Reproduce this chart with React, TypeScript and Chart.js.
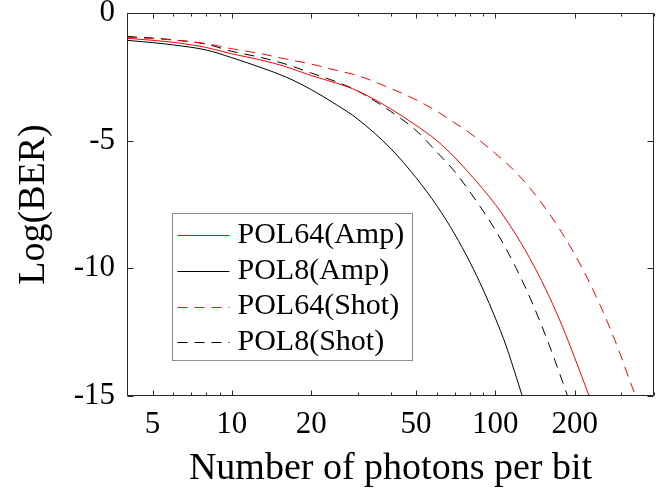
import React, { useEffect, useRef } from "react";
import { Chart, registerables } from "chart.js";

Chart.register(...registerables);

// ---- data ----
const xTickValues = [5, 10, 20, 50, 100, 200];
const xMinorValues = [4, 6, 7, 8, 9, 30, 40, 60, 70, 80, 90, 300, 400];
const yTickValues = [0, -5, -10, -15];

const pol64AmpN = [4, 5, 6, 8, 10, 13, 16, 20, 25, 30, 40, 50, 60, 70, 80, 100, 120, 140, 160, 180, 200, 227];
const pol64AmpLogBER = [-0.99, -1.07, -1.15, -1.35, -1.6, -1.85, -2.1, -2.45, -2.75, -3.05, -3.75, -4.4, -5.0, -5.65, -6.3, -7.5, -8.7, -9.9, -11.1, -12.3, -13.5, -15];

const pol8AmpN = [4, 5, 6, 8, 10, 13, 16, 20, 25, 30, 40, 50, 60, 70, 80, 90, 100, 110, 120, 126.5];
const pol8AmpLogBER = [-1.07, -1.16, -1.25, -1.45, -1.75, -2.15, -2.5, -3.0, -3.6, -4.15, -5.3, -6.45, -7.55, -8.65, -9.75, -10.85, -11.95, -13.05, -14.25, -15];

const pol64ShotN = [4, 5, 6, 8, 10, 13, 16, 20, 25, 30, 40, 50, 60, 70, 80, 100, 120, 140, 160, 180, 200, 225, 250, 275, 300, 325, 341];
const pol64ShotLogBER = [-0.95, -1.0, -1.06, -1.2, -1.4, -1.6, -1.8, -2.0, -2.25, -2.45, -2.95, -3.4, -3.85, -4.3, -4.7, -5.5, -6.25, -7.05, -7.85, -8.65, -9.45, -10.45, -11.45, -12.45, -13.45, -14.45, -15];

const pol8ShotN = [4, 5, 6, 8, 10, 13, 16, 20, 25, 30, 40, 50, 60, 70, 80, 100, 120, 140, 160, 180, 188];
const pol8ShotLogBER = [-0.92, -0.98, -1.05, -1.22, -1.5, -1.75, -2.0, -2.35, -2.7, -3.05, -3.85, -4.6, -5.45, -6.2, -7.0, -8.5, -10.0, -11.5, -13.0, -14.45, -15];

const seriesLabels = ["POL64(Amp)", "POL8(Amp)", "POL64(Shot)", "POL8(Shot)"];

const FONT = "'Liberation Serif', 'Times New Roman', serif";

export default function App() {
  const ref = useRef<HTMLCanvasElement>(null);

  useEffect(() => {
    document.body.style.margin = "0";
    const canvas = ref.current;
    if (!canvas) return;
    const pts = (xs: number[], ys: number[]) => xs.map((x, i) => ({ x, y: ys[i] }));

    const framePlugin = {
      id: "frameTicks",
      afterDatasetsDraw(chart: any) {
        const { ctx, chartArea } = chart;
        const { left, right, top, bottom } = chartArea;
        const xs = chart.scales.x;
        const ys = chart.scales.y;
        ctx.save();
        ctx.strokeStyle = "#262626";
        ctx.lineWidth = 1;
        const L = Math.round(left) + 0.5;
        const R = Math.round(right) - 0.5;
        const T = Math.round(top) + 0.5;
        const B = Math.round(bottom) - 0.5;
        ctx.beginPath();
        ctx.rect(L, T, R - L, B - T);
        ctx.stroke();
        ctx.beginPath();
        const xTick = (v: number, len: number) => {
          const px = Math.round(xs.getPixelForValue(v)) + 0.5;
          ctx.moveTo(px, B);
          ctx.lineTo(px, B - len);
          ctx.moveTo(px, T);
          ctx.lineTo(px, T + len);
        };
        xTickValues.forEach((v) => xTick(v, 5));
        xMinorValues.forEach((v) => xTick(v, 3));
        yTickValues.forEach((v) => {
          const py = Math.round(ys.getPixelForValue(v)) + 0.5;
          ctx.moveTo(L, py);
          ctx.lineTo(L + 6, py);
          ctx.moveTo(R, py);
          ctx.lineTo(R - 6, py);
        });
        ctx.stroke();
        ctx.restore();
      },
    };

    const legendPlugin = {
      id: "insideLegend",
      afterDraw(chart: any) {
        const { ctx, chartArea } = chart;
        const bx = Math.round(chartArea.left + 45) + 0.5;
        const by = Math.round(chartArea.top + 200) + 0.5;
        const bw = 240;
        const bh = 147;
        ctx.save();
        ctx.fillStyle = "#ffffff";
        ctx.fillRect(bx, by, bw, bh);
        ctx.strokeStyle = "#8c8c8c";
        ctx.lineWidth = 1;
        ctx.strokeRect(bx, by, bw, bh);
        chart.data.datasets.forEach((ds: any, i: number) => {
          const cy = by + 21.5 + i * 35.8;
          ctx.beginPath();
          ctx.strokeStyle = ds.borderColor;
          ctx.lineWidth = 1;
          ctx.setLineDash(ds.borderDash || []);
          ctx.moveTo(bx + 5, Math.round(cy) + 0.5);
          ctx.lineTo(bx + 57, Math.round(cy) + 0.5);
          ctx.stroke();
          ctx.setLineDash([]);
          ctx.fillStyle = "#000000";
          ctx.font = `30px ${FONT}`;
          ctx.textBaseline = "middle";
          ctx.textAlign = "left";
          ctx.fillText(ds.label, bx + 65, cy);
        });
        ctx.restore();
      },
    };

    const chart = new Chart(canvas, {
      type: "line",
      data: {
        datasets: [
          { label: seriesLabels[0], data: pts(pol64AmpN, pol64AmpLogBER), borderColor: "#ff0000", borderWidth: 1, pointRadius: 0, cubicInterpolationMode: "monotone" },
          { label: seriesLabels[1], data: pts(pol8AmpN, pol8AmpLogBER), borderColor: "#000000", borderWidth: 1, pointRadius: 0, cubicInterpolationMode: "monotone" },
          { label: seriesLabels[2], data: pts(pol64ShotN, pol64ShotLogBER), borderColor: "#ff0000", borderWidth: 1, borderDash: [10, 7], pointRadius: 0, cubicInterpolationMode: "monotone" },
          { label: seriesLabels[3], data: pts(pol8ShotN, pol8ShotLogBER), borderColor: "#000000", borderWidth: 1, borderDash: [10, 7], pointRadius: 0, cubicInterpolationMode: "monotone" },
        ],
      },
      options: {
        animation: false,
        responsive: false,
        maintainAspectRatio: false,
        layout: { padding: { left: 0, right: 15, top: 13, bottom: 0 } },
        plugins: { legend: { display: false }, tooltip: { enabled: false } },
        scales: {
          x: {
            type: "logarithmic",
            min: 4,
            max: 400,
            afterBuildTicks: (s: any) => {
              s.ticks = xTickValues.map((v) => ({ value: v }));
            },
            afterFit: (s: any) => {
              s.height = 101;
              s.paddingLeft = 0;
              s.paddingRight = 0;
            },
            grid: { display: false, drawTicks: false },
            border: { display: false },
            ticks: {
              autoSkip: false,
              maxRotation: 0,
              padding: 10,
              color: "#000000",
              font: { family: FONT, size: 31 },
              callback: (v: any) => String(v),
            },
            title: {
              display: true,
              text: "Number of photons per bit",
              color: "#000000",
              font: { family: FONT, size: 38 },
              padding: { top: 0, bottom: 5 },
            },
          },
          y: {
            type: "linear",
            min: -15,
            max: 0,
            afterBuildTicks: (s: any) => {
              s.ticks = yTickValues.map((v) => ({ value: v }));
            },
            afterFit: (s: any) => {
              s.width = 127;
              s.paddingTop = 0;
              s.paddingBottom = 0;
            },
            grid: { display: false, drawTicks: false },
            border: { display: false },
            ticks: {
              padding: 12,
              color: "#000000",
              font: { family: FONT, size: 31 },
              callback: (v: any) => String(v),
            },
            title: {
              display: true,
              text: "Log(BER)",
              color: "#000000",
              font: { family: FONT, size: 38 },
              padding: { top: 11, bottom: 0 },
            },
          },
        },
      },
      plugins: [framePlugin, legendPlugin],
    } as any);

    return () => chart.destroy();
  }, []);

  return (
    <div style={{ width: 669, height: 497, position: "relative" }}>
      <canvas ref={ref} width={669} height={497} style={{ display: "block", width: 669, height: 497 }} />
    </div>
  );
}
